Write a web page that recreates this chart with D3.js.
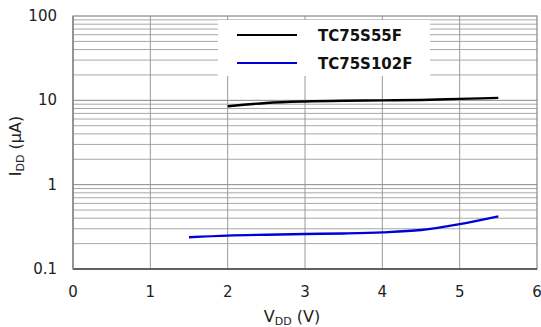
<!DOCTYPE html>
<html><head><meta charset="utf-8">
<script src="https://cdn.jsdelivr.net/npm/d3@7"></script>
<style>body{margin:0;background:#fff}svg{display:block}text{font-family:"DejaVu Sans",Verdana,sans-serif}</style>
</head><body><svg id="c" width="541" height="327"></svg>
<script>
const xTicks = [0,1,2,3,4,5,6];
const yTickLabels = ["0.1","1","10","100"];
const seriesNames = ["TC75S55F","TC75S102F"];
const seriesColors = ["#000000","#0000d8"];
const vddA = [2, 2.5, 3, 3.5, 4, 4.5, 5, 5.5];
const iddA = [8.5, 9.3, 9.7, 9.9, 10.0, 10.1, 10.4, 10.7];
const vddB = [1.5, 2, 2.5, 3, 3.5, 4, 4.5, 5, 5.5];
const iddB = [0.238, 0.249, 0.255, 0.26, 0.264, 0.272, 0.29, 0.34, 0.42];

const svg = d3.select("#c");
const L=73, R=537, T=16, B=269;
const x = d3.scaleLinear().domain([0,6]).range([L,R]);
const y = d3.scaleLog().domain([0.1,100]).range([B,T]);

// grid
const minor=[];
for (let d=0.1; d<100; d*=10) for (let k=2;k<=9;k++) minor.push(+(d*k).toPrecision(3));
const g = svg.append("g");
g.selectAll(".hm").data(minor).join("line")
  .attr("x1",L).attr("x2",R).attr("y1",d=>y(d)).attr("y2",d=>y(d))
  .attr("stroke","#a8a8a8").attr("stroke-width",1);
g.selectAll(".hM").data([1,10]).join("line")
  .attr("x1",L).attr("x2",R).attr("y1",d=>y(d)).attr("y2",d=>y(d))
  .attr("stroke","#888").attr("stroke-width",1);
g.selectAll(".v").data(xTicks.slice(1,-1)).join("line")
  .attr("y1",T).attr("y2",B).attr("x1",d=>x(d)).attr("x2",d=>x(d))
  .attr("stroke","#999").attr("stroke-width",1);
svg.append("rect").attr("x",L).attr("y",T).attr("width",R-L).attr("height",B-T)
  .attr("fill","none").attr("stroke","#888").attr("stroke-width",1.2);
svg.append("line").attr("x1",L).attr("x2",R).attr("y1",B).attr("y2",B).attr("stroke","#444").attr("stroke-width",1.5);
svg.append("line").attr("x1",L).attr("x2",L).attr("y1",T).attr("y2",B).attr("stroke","#888").attr("stroke-width",1.5);

// axes labels
svg.selectAll(".xt").data(xTicks).join("text")
  .attr("x",d=>x(d)).attr("y",297).attr("text-anchor","middle")
  .attr("font-size",15).attr("fill","#222").text(d=>d);
const yVals=[0.1,1,10,100];
svg.selectAll(".yt").data(yVals).join("text")
  .attr("x",57).attr("y",d=>y(d)+5).attr("text-anchor","end")
  .attr("font-size",15).attr("fill","#222").text((d,i)=>yTickLabels[i]);

const xl = svg.append("text").attr("x",292).attr("y",322).attr("text-anchor","middle").attr("font-size",16).attr("fill","#222");
xl.append("tspan").text("V");
xl.append("tspan").attr("font-size",11).attr("dy",3).text("DD");
xl.append("tspan").attr("dy",-3).text(" (V)");

const yl = svg.append("text").attr("transform","translate(21,146) rotate(-90)").attr("text-anchor","middle").attr("font-size",16).attr("fill","#222");
yl.append("tspan").text("I");
yl.append("tspan").attr("font-size",11).attr("dy",3).text("DD");
yl.append("tspan").attr("dy",-3).text(" (μA)");

// lines
const line = d3.line().x(d=>x(d[0])).y(d=>y(d[1])).curve(d3.curveMonotoneX);
const data=[vddA.map((v,i)=>[v,iddA[i]]), vddB.map((v,i)=>[v,iddB[i]])];
svg.selectAll(".s").data(data).join("path").attr("d",line).attr("fill","none")
  .attr("stroke",(d,i)=>seriesColors[i]).attr("stroke-width",2.4);

// legend
svg.append("rect").attr("x",218).attr("y",20).attr("width",212).attr("height",56).attr("fill","#fff");
seriesNames.forEach((n,i)=>{
  const yy=35+i*28;
  svg.append("line").attr("x1",237).attr("x2",297).attr("y1",yy).attr("y2",yy).attr("stroke",seriesColors[i]).attr("stroke-width",2);
  svg.append("text").attr("x",318).attr("y",yy+5.5).attr("font-size",15).attr("font-weight","bold").attr("fill","#111").text(n);
});
</script></body></html>
